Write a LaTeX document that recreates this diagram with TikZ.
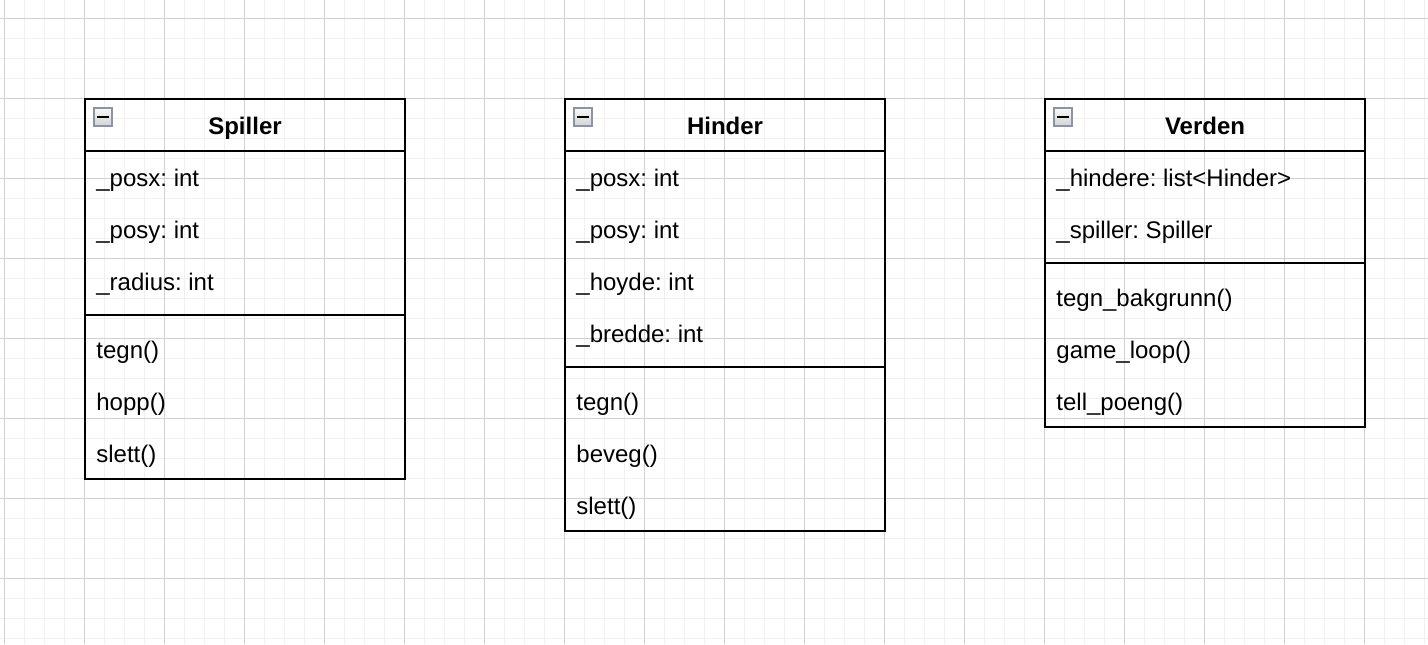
\documentclass[tikz,border=0pt]{standalone}
\usepackage{fontspec}
\setmainfont{Liberation Sans}
\usetikzlibrary{positioning, calc}
\frenchspacing
\definecolor{iconedge}{RGB}{138,148,162}

\tikzset{
  member/.style={anchor=base west, inner sep=0pt, font=\fontsize{12pt}{14pt}\selectfont},
  classname/.style={anchor=base, inner sep=0pt, font=\fontsize{12pt}{14pt}\selectfont\bfseries},
  classbox/.style={draw=black, line width=1pt},
  gridminor/.style={draw=gray!12, line width=0.5pt},
  gridmajor/.style={draw=gray!36, line width=0.5pt},
  foldicon/.style={draw=iconedge, line width=0.8pt, top color=gray!5, bottom color=gray!35,
    minimum size=9pt, inner sep=0pt},
}

\begin{document}
\begin{tikzpicture}[x=0.5pt, y=-0.5pt]
                \useasboundingbox (0,0) rectangle (1428,644);
                \fill[white] (0,0) rectangle (1428,644);
                % grid
                \foreach \x in {4,24,...,1424} \draw[gridminor] (\x,0) -- (\x,644);
                \foreach \y in {-2,18,...,642} \draw[gridminor] (0,\y) -- (1428,\y);
                \foreach \x in {4,84,...,1404} \draw[gridmajor] (\x,0) -- (\x,644);
                \foreach \y in {18,98,...,578} \draw[gridmajor] (0,\y) -- (1428,\y);

                % Spiller
                \draw[classbox] (85,99) rectangle (405,479);
                \draw[classbox] (85,151) -- (405,151);
                \draw[classbox] (85,315) -- (405,315);
                \node[foldicon] (spillerFold) at (103,117) {};
                \draw[line width=1.2pt] ($(spillerFold)+(-6,0)$) -- ($(spillerFold)+(6,0)$);
                \node[classname] (spiller) at (245,134) {Spiller};
                \node[member] (spillerPosx) at (96,186) {\_posx: int};
                \node[member] (spillerPosy) at (96,238) {\_posy: int};
                \node[member] (spillerRadius) at (96,290) {\_radius: int};
                \node[member] (spillerTegn) at (96,358) {tegn()};
                \node[member] (spillerHopp) at (96,410) {hopp()};
                \node[member] (spillerSlett) at (96,462) {slett()};

                % Hinder
                \draw[classbox] (565,99) rectangle (885,531);
                \draw[classbox] (565,151) -- (885,151);
                \draw[classbox] (565,367) -- (885,367);
                \node[foldicon] (hinderFold) at (583,117) {};
                \draw[line width=1.2pt] ($(hinderFold)+(-6,0)$) -- ($(hinderFold)+(6,0)$);
                \node[classname] (hinder) at (725,134) {Hinder};
                \node[member] (hinderPosx) at (576,186) {\_posx: int};
                \node[member] (hinderPosy) at (576,238) {\_posy: int};
                \node[member] (hinderHoyde) at (576,290) {\_hoyde: int};
                \node[member] (hinderBredde) at (576,342) {\_bredde: int};
                \node[member] (hinderTegn) at (576,410) {tegn()};
                \node[member] (hinderBeveg) at (576,462) {beveg()};
                \node[member] (hinderSlett) at (576,514) {slett()};

                % Verden
                \draw[classbox] (1045,99) rectangle (1365,427);
                \draw[classbox] (1045,151) -- (1365,151);
                \draw[classbox] (1045,263) -- (1365,263);
                \node[foldicon] (verdenFold) at (1063,117) {};
                \draw[line width=1.2pt] ($(verdenFold)+(-6,0)$) -- ($(verdenFold)+(6,0)$);
                \node[classname] (verden) at (1205,134) {Verden};
                \node[member] (verdenHindere) at (1056,186) {\_hindere: list<Hinder>};
                \node[member] (verdenSpiller) at (1056,238) {\_spiller: Spiller};
                \node[member] (verdenBakgrunn) at (1056,306) {tegn\_bakgrunn()};
                \node[member] (verdenLoop) at (1056,358) {game\_loop()};
                \node[member] (verdenPoeng) at (1056,410) {tell\_poeng()};
            \end{tikzpicture}
\end{document}
